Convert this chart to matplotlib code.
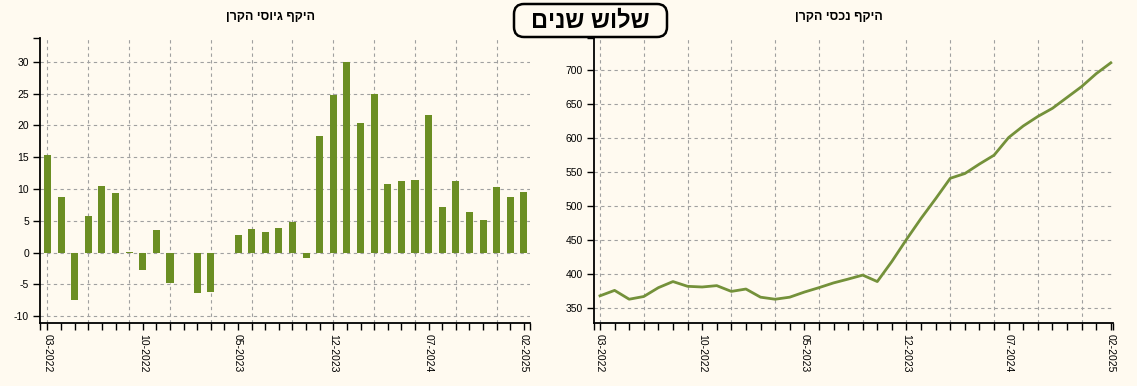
import matplotlib.pyplot as plt
from matplotlib.patches import FancyBboxPatch
from matplotlib.transforms import IdentityTransform

plt.rcParams['font.family'] = ['Liberation Sans', 'DejaVu Sans']
plt.rcParams['axes.unicode_minus'] = False

months = ["03-2022", "04-2022", "05-2022", "06-2022", "07-2022", "08-2022",
          "09-2022", "10-2022", "11-2022", "12-2022", "01-2023", "02-2023",
          "03-2023", "04-2023", "05-2023", "06-2023", "07-2023", "08-2023",
          "09-2023", "10-2023", "11-2023", "12-2023", "01-2024", "02-2024",
          "03-2024", "04-2024", "05-2024", "06-2024", "07-2024", "08-2024",
          "09-2024", "10-2024", "11-2024", "12-2024", "01-2025", "02-2025"]
tick_labels = ["03-2022", "10-2022", "05-2023", "12-2023", "07-2024", "02-2025"]
grid_months = months[::3]

# monthly fund raising (left) and fund assets (right)
raised = [15.4, 8.7, -7.4, 5.7, 10.5, 9.4, 0.1, -2.7, 3.5, -4.8, 0.0, -6.4,
          -6.2, 0.0, 2.7, 3.7, 3.2, 3.8, 4.8, -0.85, 18.4, 24.8, 30.0, 20.4,
          25.0, 10.8, 11.2, 11.4, 21.7, 7.2, 11.3, 6.4, 5.1, 10.3, 8.7, 9.5]
assets = [368, 376, 363, 367, 380, 389, 382, 381, 383, 374.5, 378, 366,
          363, 366, 373.5, 380, 387, 392.6, 398.5, 389, 418.6, 451, 482, 511,
          541, 548, 562, 575, 601, 618, 632, 644, 660, 676, 695, 711]

title_main = "שלוש שנים"
title_left = "היקף גיוסי הקרן"
title_right = "היקף נכסי הקרן"


def heb(s):
    # matplotlib has no bidi support, so lay Hebrew out right to left by hand
    return s[::-1]


W, H = 1137, 386
bg = '#fffaf0'
green = '#6b8e23'

fig = plt.figure(figsize=(W / 100, H / 100), dpi=100, facecolor=bg)
ax1 = fig.add_axes([40 / W, (H - 323) / H, 490 / W, 285 / H])
ax2 = fig.add_axes([594 / W, (H - 323) / H, 519 / W, 285 / H])

x = list(range(len(months)))

ax1.bar(x, raised, width=0.52, color=green, zorder=3)
ax1.set_xlim(-0.55, 35.45)
ax1.set_ylim(-11.06, 33.75)
ax1.set_yticks(range(-10, 31, 5))

ax2.plot(x, assets, color='#74913a', lw=2, zorder=3)
ax2.set_xlim(-0.41, 35.15)
ax2.set_ylim(328, 747.5)
ax2.set_yticks(range(350, 701, 50))

for ax in (ax1, ax2):
    ax.set_facecolor(bg)
    for s in ('top', 'right'):
        ax.spines[s].set_visible(False)
    for s in ('left', 'bottom'):
        ax.spines[s].set_linewidth(1.3)
    ax.set_xticks([months.index(t) for t in tick_labels])
    ax.set_xticklabels(tick_labels, rotation=-90, va='top', ha='center')
    lo, hi = ax.get_xlim()
    ax.set_xticks(x + [lo, hi], minor=True)
    ax.set_yticks([ax.get_ylim()[1]], minor=True)
    ax.tick_params(which='both', direction='out', length=5, width=1,
                   color='black', labelsize=7.5, pad=3)
    ax.grid(axis='y', ls=(0, (3, 3)), color='#a0a0a0', lw=0.8, zorder=0)
    for m in grid_months:
        ax.axvline(months.index(m), ls=(0, (3, 3)), color='#a0a0a0',
                   lw=0.8, zorder=0)

fig.text(270 / W, (H - 17) / H, heb(title_left), ha='center', va='center',
         fontsize=9, fontweight='bold')
fig.text(839 / W, (H - 17) / H, heb(title_right), ha='center', va='center',
         fontsize=9, fontweight='bold')

box = FancyBboxPatch((514, H - 37), 153, 33,
                     boxstyle='round,pad=0,rounding_size=10',
                     transform=IdentityTransform(), fc=bg, ec='black', lw=1.8)
fig.patches.append(box)
fig.text(590 / W, (H - 21) / H, heb(title_main), ha='center', va='center',
         fontsize=17, fontweight='bold')

fig.savefig('out.png', dpi=100, facecolor=bg)
